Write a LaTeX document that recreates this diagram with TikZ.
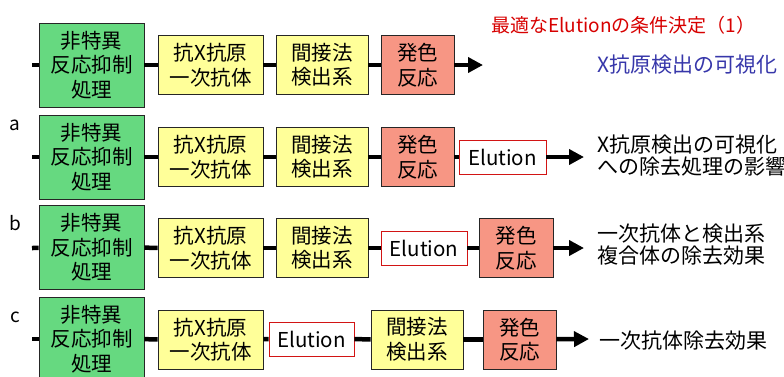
\documentclass[tikz,border=0pt]{standalone}
\usepackage{fontspec}
\setmainfont{Noto Sans CJK JP}
\usetikzlibrary{arrows.meta}
\definecolor{gfill}{RGB}{102,217,128}
\definecolor{yfill}{RGB}{255,255,153}
\definecolor{rfill}{RGB}{247,150,132}
\definecolor{ered}{RGB}{210,20,20}
\definecolor{titlered}{RGB}{215,0,0}
\definecolor{titleblue}{RGB}{55,55,170}
\newcommand\boxfont{\fontsize{20.5}{24.5}\selectfont}
\newcommand\sidefont{\fontsize{21}{22}\selectfont}
\tikzset{
  basebox/.style={draw=black!85, line width=0.9pt, align=center, inner sep=0pt, font=\boxfont},
  gbox/.style={basebox, fill=gfill, minimum width=105pt, minimum height=84pt},
  ybox/.style={basebox, fill=yfill, minimum height=59pt},
  rbox/.style={basebox, fill=rfill, minimum width=73pt, minimum height=59pt},
  ebox/.style={basebox, draw=ered, fill=white, minimum height=34pt},
  conn/.style={line width=4.5pt, black},
  arr/.style={conn, -{Triangle[length=15pt,width=15pt]}},
  rtext/.style={anchor=west, align=left, inner sep=0pt, font=\sidefont},
  lab/.style={anchor=center, inner sep=0pt, font=\fontsize{19}{20}\selectfont}
}
\begin{document}
\begin{tikzpicture}[x=1pt,y=-1pt]
\path[use as bounding box] (0,0) rectangle (784,376);
\clip (0,0) rectangle (784,376);
% titles
\node[anchor=west, inner sep=0pt, text=titlered, font=\fontsize{19}{22}\selectfont] (title) at (491,25) {最適なElutionの条件決定（1）};
% row 0
\coordinate (s0) at (32,65);
\node[gbox] (g0) at (91.5,65) {非特異\\反応抑制\\処理};
\node[ybox, minimum width=105pt] (ya0) at (210.5,65) {抗X抗原\\一次抗体};
\node[ybox, minimum width=92pt] (yb0) at (322,65) {間接法\\検出系};
\node[rbox] (r0) at (417.5,65) {発色\\反応};
\coordinate (t0) at (483,65);
\draw[conn] (s0) -- (g0); \draw[conn] (g0) -- (ya0); \draw[conn] (ya0) -- (yb0); \draw[conn] (yb0) -- (r0);
\draw[arr] (r0) -- (t0);
\node[rtext, text=titleblue] (d0) at (597,65) {X抗原検出の可視化};
% row a
\node[lab] (la) at (15,125) {a};
\coordinate (s1) at (32,157);
\node[gbox] (g1) at (91.5,157) {非特異\\反応抑制\\処理};
\node[ybox, minimum width=105pt] (ya1) at (210.5,157) {抗X抗原\\一次抗体};
\node[ybox, minimum width=92pt] (yb1) at (322,157) {間接法\\検出系};
\node[rbox] (r1) at (417.5,157) {発色\\反応};
\node[ebox, minimum width=87pt] (e1) at (502.5,157) {Elution};
\coordinate (t1) at (584,157);
\draw[conn] (s1) -- (g1); \draw[conn] (g1) -- (ya1); \draw[conn] (ya1) -- (yb1); \draw[conn] (yb1) -- (r1); \draw[conn] (r1) -- (e1);
\draw[arr] (e1) -- (t1);
\node[rtext] (d1) at (597,156) {X抗原検出の可視化\\への除去処理の影響};
% row b
\node[lab] (lb) at (15,223) {b};
\coordinate (s2) at (32,248);
\node[gbox] (g2) at (91.5,247.5) {非特異\\反応抑制\\処理};
\node[ybox, minimum width=105pt] (ya2) at (210.5,248) {抗X抗原\\一次抗体};
\node[ybox, minimum width=92pt] (yb2) at (322,248) {間接法\\検出系};
\node[ebox, minimum width=86pt] (e2) at (424,248) {Elution};
\node[rbox, minimum width=74pt] (r2) at (516,248) {発色\\反応};
\coordinate (t2) at (584,248);
\draw[conn] (s2) -- (g2); \draw[conn] (g2) -- (ya2); \draw[conn] (ya2) -- (yb2); \draw[conn] (yb2) -- (e2); \draw[conn] (e2) -- (r2);
\draw[arr] (r2) -- (t2);
\node[rtext] (d2) at (597,245) {一次抗体と検出系\\複合体の除去効果};
% row c
\node[lab] (lc) at (15,317) {c};
\coordinate (s3) at (32,339);
\node[gbox] (g3) at (91.5,339) {非特異\\反応抑制\\処理};
\node[ybox, minimum width=105pt] (ya3) at (210.5,339.5) {抗X抗原\\一次抗体};
\node[ebox, minimum width=85pt] (e3) at (311.5,339) {Elution};
\node[ybox, minimum width=92pt] (yb3) at (417,339.5) {間接法\\検出系};
\node[rbox] (r3) at (519.5,339.5) {発色\\反応};
\coordinate (t3) at (589,339);
\draw[conn] (s3) -- (g3); \draw[conn] (g3) -- (ya3); \draw[conn] (ya3) -- (e3); \draw[conn] (e3) -- (yb3); \draw[conn] (yb3) -- (r3);
\draw[arr] (r3) -- (t3);
\node[rtext] (d3) at (599,341) {一次抗体除去効果};
\end{tikzpicture}
\end{document}
